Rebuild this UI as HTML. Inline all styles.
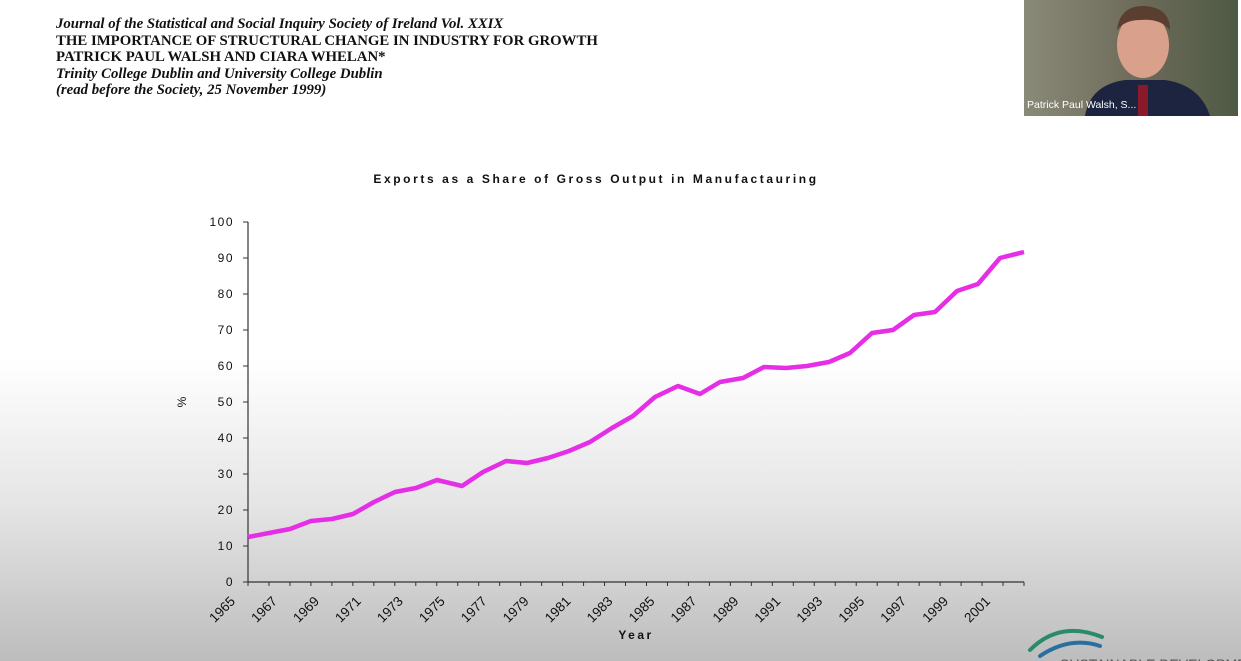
<!DOCTYPE html>
<html><head><meta charset="utf-8"><style>
body{margin:0;width:1241px;height:661px;overflow:hidden;font-family:"Liberation Sans",sans-serif}
.bg{position:absolute;left:0;top:0;width:1241px;height:661px;background:linear-gradient(to bottom,#fff 0,#fff 360px,#e6e6e6 500px,#bdbdbd 661px)}
.hdr{position:absolute;left:56px;top:16px;font-family:"Liberation Serif",serif;font-size:14.8px;line-height:16.5px;font-weight:bold;color:#111}
.hdr i{font-weight:bold}
</style></head><body>
<div class="bg"></div>
<div class="hdr"><i>Journal of the Statistical and Social Inquiry Society of Ireland Vol. XXIX</i><br>THE IMPORTANCE OF STRUCTURAL CHANGE IN INDUSTRY FOR GROWTH<br>PATRICK PAUL WALSH AND CIARA WHELAN*<br><i>Trinity College Dublin and University College Dublin</i><br><i>(read before the Society, 25 November 1999)</i></div>
<svg width="1241" height="661" style="position:absolute;left:0;top:0" font-family="Liberation Sans, sans-serif">
<text x="596" y="183" text-anchor="middle" font-size="12" font-weight="bold" letter-spacing="2.6" fill="#111">Exports as a Share of Gross Output in Manufactauring</text>
<g stroke="#333" stroke-width="1.2">
<line x1="248" y1="222" x2="248" y2="582"/>
<line x1="248" y1="582" x2="1024" y2="582"/>
</g>
<g font-size="12" fill="#111" text-anchor="end" letter-spacing="1.5" id="yl"></g>
<g id="ticks" stroke="#333" stroke-width="1"></g>
<g id="xl" font-size="13.5" fill="#111"></g>
<text x="186" y="402" font-size="12" fill="#111" transform="rotate(-90 186 402)" text-anchor="middle">%</text>
<text x="636" y="639" font-size="12" font-weight="bold" letter-spacing="2.5" text-anchor="middle" fill="#111">Year</text>
<polyline fill="none" stroke="#e52ee5" stroke-width="4.5" stroke-linejoin="round" points="248,537 269,533 290,529 311,521 332,519 353,514 374,502 395,492 416,488 437,480 462,486 483,472 506,461 527,463 548,458 569,451 590,442 612,428 633,416 655,397 678,386 700,394 720,382 743,378 764,367 786,368 807,366 829,362 850,353 872,333 893,330 914,315 935,312 957,291 978,284 1000,258 1024,252"/>
<g fill="none" stroke-width="4" stroke-linecap="round">
<path d="M1030,650 Q1060,620 1102,637" stroke="#2a8a6a"/>
<path d="M1040,656 Q1070,636 1100,646" stroke="#2a6fa0"/>
</g>
<text x="1060" y="669" font-size="14" fill="#555">SUSTAINABLE DEVELOPMENT</text>
<defs><linearGradient id="cam" x1="0" x2="1"><stop offset="0" stop-color="#8a8a78"/><stop offset="0.5" stop-color="#6f6c5a"/><stop offset="1" stop-color="#4e5a44"/></linearGradient></defs>
<rect x="1024" y="0" width="214" height="116" fill="url(#cam)"/>
<path d="M1085,116 Q1090,85 1125,80 L1165,80 Q1200,85 1210,116 Z" fill="#1c2440"/>
<ellipse cx="1143" cy="45" rx="26" ry="33" fill="#d9a08c"/>
<path d="M1117,30 Q1120,5 1145,6 Q1170,8 1170,30 Q1160,18 1140,20 Q1125,20 1117,30Z" fill="#5a3e30"/>
<rect x="1138" y="85" width="10" height="31" fill="#8a1a2a"/>
<text x="1027" y="108" font-size="10.5" fill="#fff">Patrick Paul Walsh, S...</text>
</svg>
<script>
var ns="http://www.w3.org/2000/svg";
var yl=document.getElementById("yl"),tk=document.getElementById("ticks"),xl=document.getElementById("xl");
for(var v=0;v<=100;v+=10){var y=582-v*3.6;var t=document.createElementNS(ns,"text");t.setAttribute("x",234);t.setAttribute("y",y+4);t.textContent=v;yl.appendChild(t);
var l=document.createElementNS(ns,"line");l.setAttribute("x1",243);l.setAttribute("x2",248);l.setAttribute("y1",y);l.setAttribute("y2",y);tk.appendChild(l);}
var sp=(1024-248)/37;
for(var i=0;i<=37;i++){var x=248+i*sp;var l=document.createElementNS(ns,"line");l.setAttribute("x1",x);l.setAttribute("x2",x);l.setAttribute("y1",582);l.setAttribute("y2",586);tk.appendChild(l);
if(i%2==0){var ax=x-12,ay=602;var t=document.createElementNS(ns,"text");t.setAttribute("x",ax);t.setAttribute("y",ay);t.setAttribute("text-anchor","end");t.setAttribute("transform","rotate(-45 "+ax+" "+ay+")");t.textContent=1965+i;xl.appendChild(t);}}
</script>
</body></html>
